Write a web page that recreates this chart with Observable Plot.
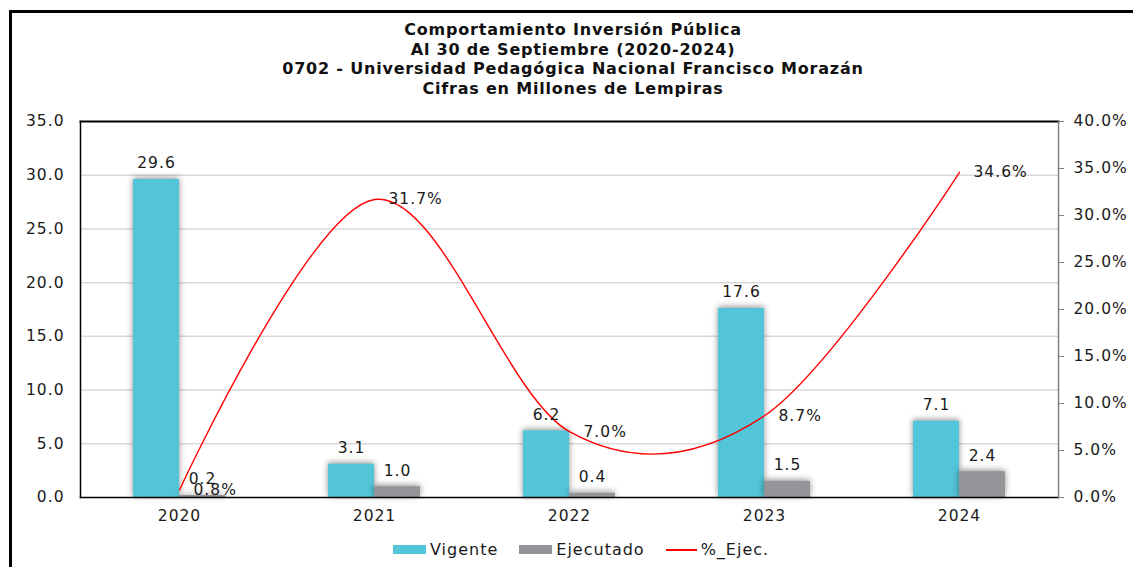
<!DOCTYPE html>
<html>
<head>
<meta charset="utf-8">
<script src="https://cdn.jsdelivr.net/npm/d3@7"></script>
<script src="https://cdn.jsdelivr.net/npm/@observablehq/plot@0.6"></script>
<style>
  html, body { margin: 0; padding: 0; background: #fff; }
  #wrap { position: relative; width: 1133px; height: 567px; overflow: hidden; font-family: "DejaVu Sans", sans-serif; }
  #outer { position: absolute; left: 9px; top: 10px; right: -5px; bottom: -5px; border-top: 3px solid #000; border-left: 3px solid #000; }
  #title { position: absolute; left: 0; width: 1146px; top: 20px; text-align: center; font-weight: bold; font-size: 16px; letter-spacing: 0.8px; line-height: 19.7px; color: #111; }
  #chart { position: absolute; left: 0; top: 0; }
  #legend { position: absolute; top: 540px; left: 393px; display: flex; align-items: center; font-size: 16px; letter-spacing: 1px; color: #1a1a1a; white-space: nowrap; }
  .sw { display: inline-block; width: 33px; height: 9px; margin-right: 4px; }
  .ln { display: inline-block; width: 31px; height: 2px; background: #ff0000; margin-right: 4px; }
  .it { display: inline-flex; align-items: center; margin-right: 21px; }
</style>
</head>
<body>
<div id="wrap">
  <div id="outer"></div>
  <div id="chart"></div>
  <div id="title">
    <div>Comportamiento Inversión Pública</div>
    <div>Al 30 de Septiembre (2020-2024)</div>
    <div>0702 - Universidad Pedagógica Nacional Francisco Morazán</div>
    <div>Cifras en Millones de Lempiras</div>
  </div>
  <div id="legend">
    <span class="it"><span class="sw" style="background:#53c5d9"></span>Vigente</span>
    <span class="it"><span class="sw" style="background:#939598"></span>Ejecutado</span>
    <span class="it"><span class="ln"></span>%_Ejec.</span>
  </div>
</div>
<script>
const years = ["2020", "2021", "2022", "2023", "2024"];
const vigente = [29.6, 3.1, 6.2, 17.6, 7.1];
const ejecutado = [0.2, 1.0, 0.4, 1.5, 2.4];
const pctEjec = [0.8, 31.7, 7.0, 8.7, 34.6];
const leftTicks = [0, 5, 10, 15, 20, 25, 30, 35];
const rightTicks = [0, 5, 10, 15, 20, 25, 30, 35, 40];

const cyan = "#53c5d9", gray = "#939598", red = "#ff0000";
const k = 35 / 40; // percent axis -> left axis units

const rows = years.map((year, i) => ({year, vigente: vigente[i], ejecutado: ejecutado[i], pct: pctEjec[i]}));

const chart = Plot.plot({
  width: 1133,
  height: 567,
  marginTop: 121,
  marginBottom: 70,
  marginLeft: 80,
  marginRight: 75,
  style: {fontFamily: "DejaVu Sans, sans-serif", fontSize: "15.5px", color: "#1a1a1a", background: "transparent", letterSpacing: "1px"},
  x: {type: "band", domain: years, paddingInner: 0.765, paddingOuter: 0.3825, label: null},
  y: {domain: [0, 35], label: null},
  marks: [
    Plot.gridY([5, 10, 15, 20, 25, 30], {stroke: "#d9d9d9", strokeOpacity: 1, strokeWidth: 1.5}),
    Plot.barY(rows, {x: "year", y: "vigente", fill: cyan, dx: -23}),
    Plot.barY(rows, {x: "year", y: "ejecutado", fill: gray, dx: 23}),
    Plot.frame({anchor: "left", stroke: "#000", strokeWidth: 1.5}),
    Plot.frame({anchor: "top", stroke: "#000", strokeWidth: 2}),
    Plot.frame({anchor: "bottom", stroke: "#000", strokeWidth: 1.5}),
    Plot.frame({anchor: "right", stroke: "#808080", strokeWidth: 1.5}),
    Plot.line(rows, {x: "year", y: d => d.pct * k, stroke: red, strokeWidth: 1.4, curve: "cardinal"}),
    Plot.text(rows, {x: "year", y: "vigente", text: d => d.vigente.toFixed(1), dx: -23, dy: -16, fill: "#1a1a1a"}),
    Plot.text(rows, {x: "year", y: "ejecutado", text: d => d.ejecutado.toFixed(1), dx: 23, dy: -16, fill: "#1a1a1a"}),
    Plot.text(rows, {x: "year", y: d => d.pct * k, text: d => d.pct.toFixed(1) + "%", dx: 14, textAnchor: "start", fill: "#1a1a1a"}),
    Plot.axisY(leftTicks, {anchor: "left", tickSize: 0, tickPadding: 16, tickFormat: d => d.toFixed(1)}),
    Plot.axisY(rightTicks.map(p => p * k), {anchor: "right", tickSize: 5, tickPadding: 10, stroke: "#808080", fill: "#1a1a1a", tickFormat: v => (v / k).toFixed(1) + "%"}),
    Plot.axisX({anchor: "bottom", tickSize: 0, tickPadding: 12})
  ]
});
chart.querySelectorAll('g[aria-label="bar"]').forEach(g => {
  g.style.filter = "drop-shadow(0px -1px 3px rgba(0,0,0,0.45))";
});
document.getElementById("chart").appendChild(chart);
</script>
</body>
</html>
